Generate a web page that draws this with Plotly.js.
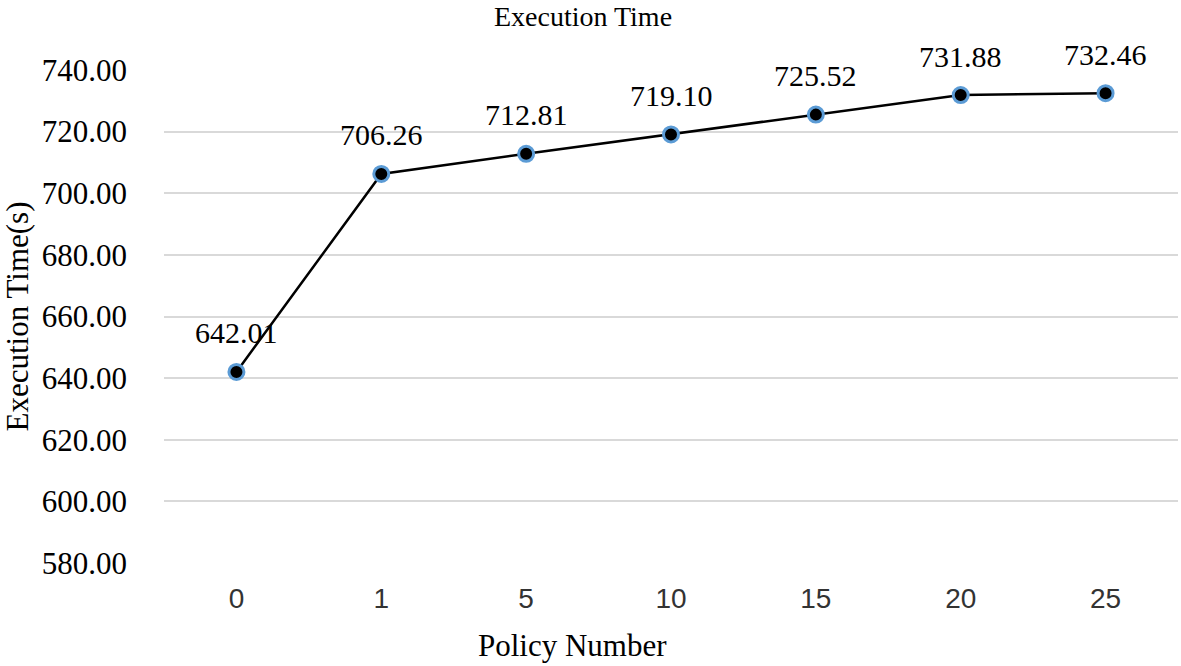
<!DOCTYPE html>
<html>
<head>
<meta charset="utf-8">
<script src="https://cdn.plot.ly/plotly-3.0.1.min.js"></script>
<style>html,body{margin:0;padding:0;background:#fff;}#chart{width:1181px;height:666px;}</style>
</head>
<body>
<div id="chart"></div>
<script>
const policies = ["0", "1", "5", "10", "15", "20", "25"];
const execTimes = [642.01, 706.26, 712.81, 719.10, 725.52, 731.88, 732.46];
const yTicks = [580, 600, 620, 640, 660, 680, 700, 720, 740];

const serif = "Liberation Serif, Times New Roman, serif";

const trace = {
  x: policies,
  y: execTimes,
  type: "scatter",
  mode: "lines+markers",
  line: {color: "#000000", width: 2.5},
  marker: {color: "#000000", size: 15, line: {color: "#5B9BD5", width: 3}},
  cliponaxis: false,
  hoverinfo: "x+y"
};

const annotations = policies.map((p, i) => ({
  x: i, y: execTimes[i], xref: "x", yref: "y",
  text: execTimes[i].toFixed(2), showarrow: false,
  yshift: 39, font: {family: serif, size: 30, color: "#000"}
}));

annotations.push({
  xref: "paper", yref: "paper", x: (572 - 164) / 1014, y: -(645 - 563) / 493,
  xanchor: "center", yanchor: "middle", showarrow: false,
  text: "Policy Number", font: {family: serif, size: 31, color: "#000"}
});

const layout = {
  width: 1181, height: 666,
  margin: {l: 164, r: 3, t: 70, b: 103},
  paper_bgcolor: "#fff", plot_bgcolor: "#fff",
  showlegend: false,
  title: {text: "Execution Time", font: {family: serif, size: 28, color: "#000"},
          xref: "container", x: 583 / 1181, xanchor: "center",
          yref: "container", y: 1 - 16 / 666, yanchor: "middle"},
  xaxis: {
    type: "category", range: [-0.5, 6.5],
    showgrid: false, zeroline: false, showline: false, ticks: "",
    tickfont: {family: "Liberation Sans, Arial, sans-serif", size: 28, color: "#333"},
    ticklabelstandoff: 16
  },
  yaxis: {
    range: [580, 740], tickvals: yTicks, ticktext: yTicks.map(v => v.toFixed(2)),
    showgrid: true, gridcolor: "#d9d9d9", gridwidth: 2,
    zeroline: false, showline: false, ticks: "",
    tickfont: {family: serif, size: 31, color: "#000"},
    ticklabelstandoff: 36,
    title: {text: "Execution Time(s)", font: {family: serif, size: 31, color: "#000"}, standoff: 6}
  },
  annotations: annotations
};

Plotly.newPlot("chart", [trace], layout, {displayModeBar: false, staticPlot: true});
</script>
</body>
</html>
